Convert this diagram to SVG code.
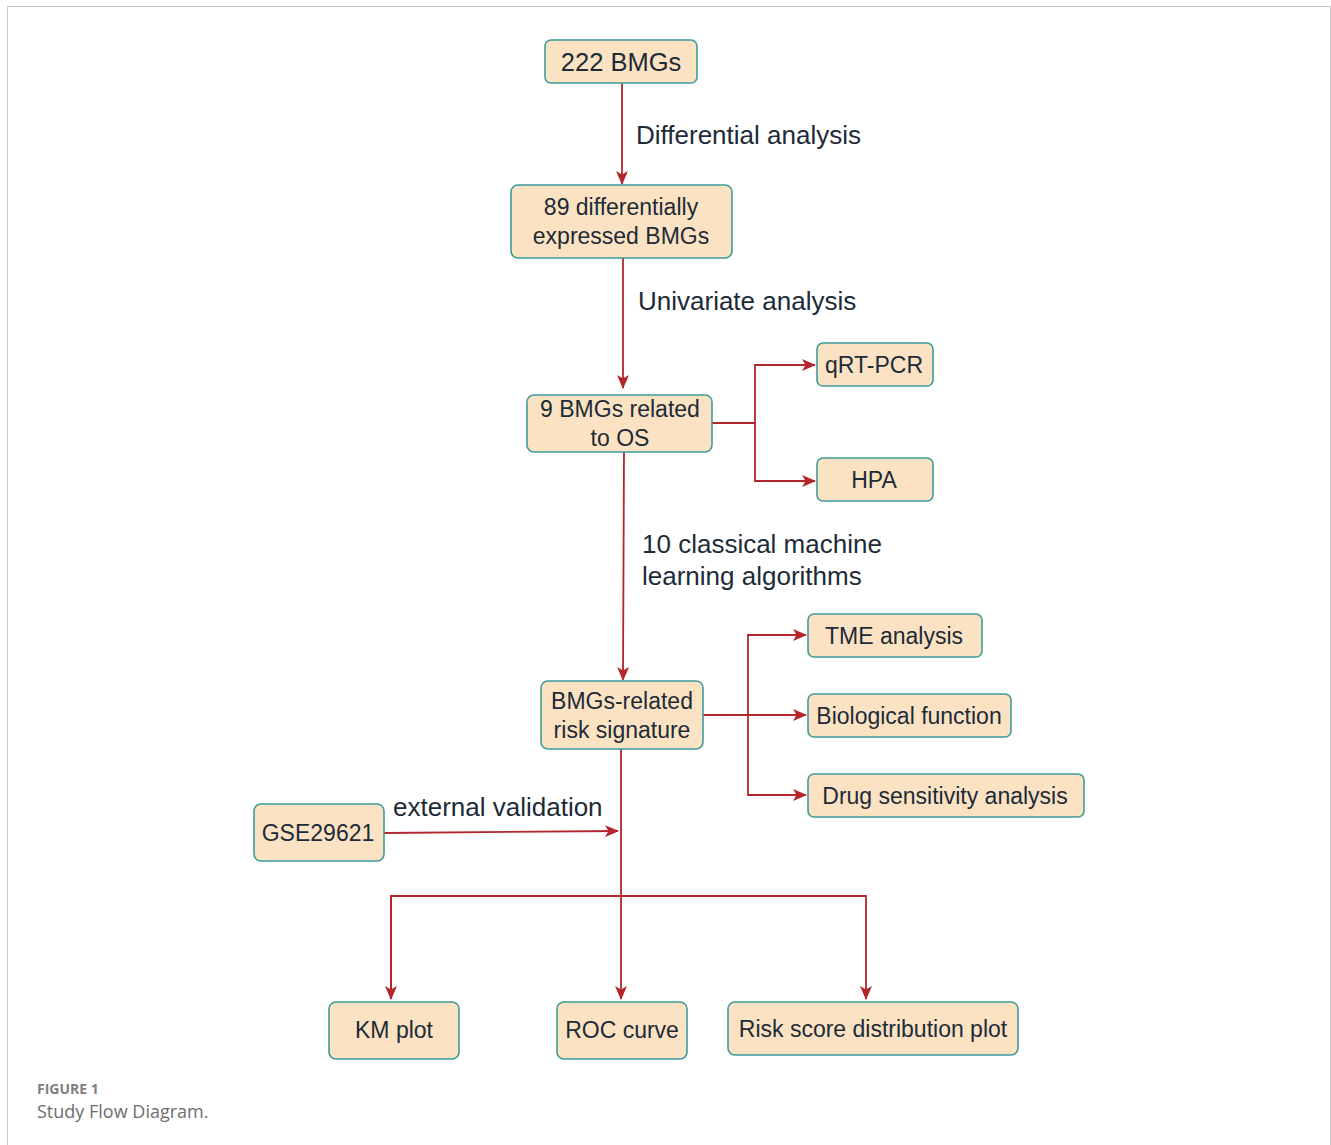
<svg xmlns="http://www.w3.org/2000/svg" width="1331" height="1145" viewBox="0 0 1331 1145">
<defs>
<style>
.box{fill:#fbe2c2;stroke:#3c9c9b;stroke-width:1.6}
.nt{font-family:"Liberation Sans",Arial,sans-serif;font-size:23px;fill:#1d2b38;text-anchor:middle}
.lbl{font-family:"Liberation Sans",Arial,sans-serif;font-size:26px;fill:#1d2b38}
.con{fill:none;stroke:#b3262a;stroke-width:1.8}
.cap1{font-family:"Open Sans",Lato,sans-serif;font-size:14px;font-weight:bold;fill:#808080}
.cap2{font-family:"Open Sans",Lato,sans-serif;font-size:18px;fill:#6e6e6e}
</style>
<marker id="ah" viewBox="0 0 14 12" refX="13" refY="6" markerWidth="14" markerHeight="12" markerUnits="userSpaceOnUse" orient="auto">
<path d="M0,0 L14,6 L0,12 L3.5,6 z" fill="#b3262a"/>
</marker>
</defs>
<rect width="1331" height="1145" fill="#ffffff"/>
<path d="M7.5,1145 V6.5 H1330.5 V1145" fill="none" stroke="#c8c8c8" stroke-width="1"/>

<g id="connectors">
<path class="con" d="M622,83 V184" marker-end="url(#ah)"/>
<path class="con" d="M623,258 V388" marker-end="url(#ah)"/>
<path class="con" d="M712,423 H755"/>
<path class="con" d="M815,365 H755 V481 H815" marker-end="url(#ah)"/>
<path class="con" d="M755,365 H815" marker-end="url(#ah)"/>
<path class="con" d="M624,452 L623,680" marker-end="url(#ah)"/>
<path class="con" d="M703,715 H806" marker-end="url(#ah)"/>
<path class="con" d="M806,635 H748 V795 H806" marker-end="url(#ah)"/>
<path class="con" d="M748,635 H806" marker-end="url(#ah)"/>
<path class="con" d="M621,749 V999" marker-end="url(#ah)"/>
<path class="con" d="M384,833 L618,831" marker-end="url(#ah)"/>
<path class="con" d="M391,999 V896 H866 V999" marker-end="url(#ah)"/>
<path class="con" d="M866,896 H391 V999" marker-end="url(#ah)"/>
</g>

<g id="labels">
<text class="lbl" x="636" y="144">Differential analysis</text>
<text class="lbl" x="638" y="310">Univariate analysis</text>
<text class="lbl" x="642" y="553">10 classical machine</text>
<text class="lbl" x="642" y="585">learning algorithms</text>
<text class="lbl" x="393" y="816">external validation</text>
</g>

<g id="n222">
<rect class="box" x="545" y="40" width="152" height="43" rx="6"/>
<text class="nt" x="621" y="71" style="font-size:25.5px">222 BMGs</text>
</g>
<g id="n89">
<rect class="box" x="511" y="185" width="221" height="73" rx="7"/>
<text class="nt" x="621" y="215">89 differentially</text>
<text class="nt" x="621" y="244">expressed BMGs</text>
</g>
<g id="n9">
<rect class="box" x="527" y="395" width="185" height="57" rx="7"/>
<text class="nt" x="620" y="417">9 BMGs related</text>
<text class="nt" x="620" y="446">to OS</text>
</g>
<g id="nqrt">
<rect class="box" x="817" y="343" width="116" height="43" rx="6"/>
<text class="nt" x="874" y="373">qRT-PCR</text>
</g>
<g id="nhpa">
<rect class="box" x="817" y="458" width="116" height="43" rx="6"/>
<text class="nt" x="874" y="488">HPA</text>
</g>
<g id="nrisk">
<rect class="box" x="541" y="681" width="162" height="68" rx="7"/>
<text class="nt" x="622" y="709">BMGs-related</text>
<text class="nt" x="622" y="738">risk signature</text>
</g>
<g id="ntme">
<rect class="box" x="808" y="614" width="174" height="43" rx="6"/>
<text class="nt" x="894" y="644">TME analysis</text>
</g>
<g id="nbio">
<rect class="box" x="808" y="694" width="203" height="43" rx="6"/>
<text class="nt" x="909" y="724">Biological function</text>
</g>
<g id="ndrug">
<rect class="box" x="808" y="774" width="276" height="43" rx="6"/>
<text class="nt" x="945" y="804">Drug sensitivity analysis</text>
</g>
<g id="ngse">
<rect class="box" x="254" y="804" width="130" height="57" rx="7"/>
<text class="nt" x="318" y="841">GSE29621</text>
</g>
<g id="nkm">
<rect class="box" x="329" y="1002" width="130" height="57" rx="7"/>
<text class="nt" x="394" y="1038">KM plot</text>
</g>
<g id="nroc">
<rect class="box" x="557" y="1002" width="130" height="57" rx="7"/>
<text class="nt" x="622" y="1038">ROC curve</text>
</g>
<g id="nrsd">
<rect class="box" x="728" y="1002" width="290" height="53" rx="7"/>
<text class="nt" x="873" y="1037">Risk score distribution plot</text>
</g>

<text class="cap1" x="37" y="1094">FIGURE 1</text>
<text class="cap2" x="37" y="1118">Study Flow Diagram.</text>
</svg>
